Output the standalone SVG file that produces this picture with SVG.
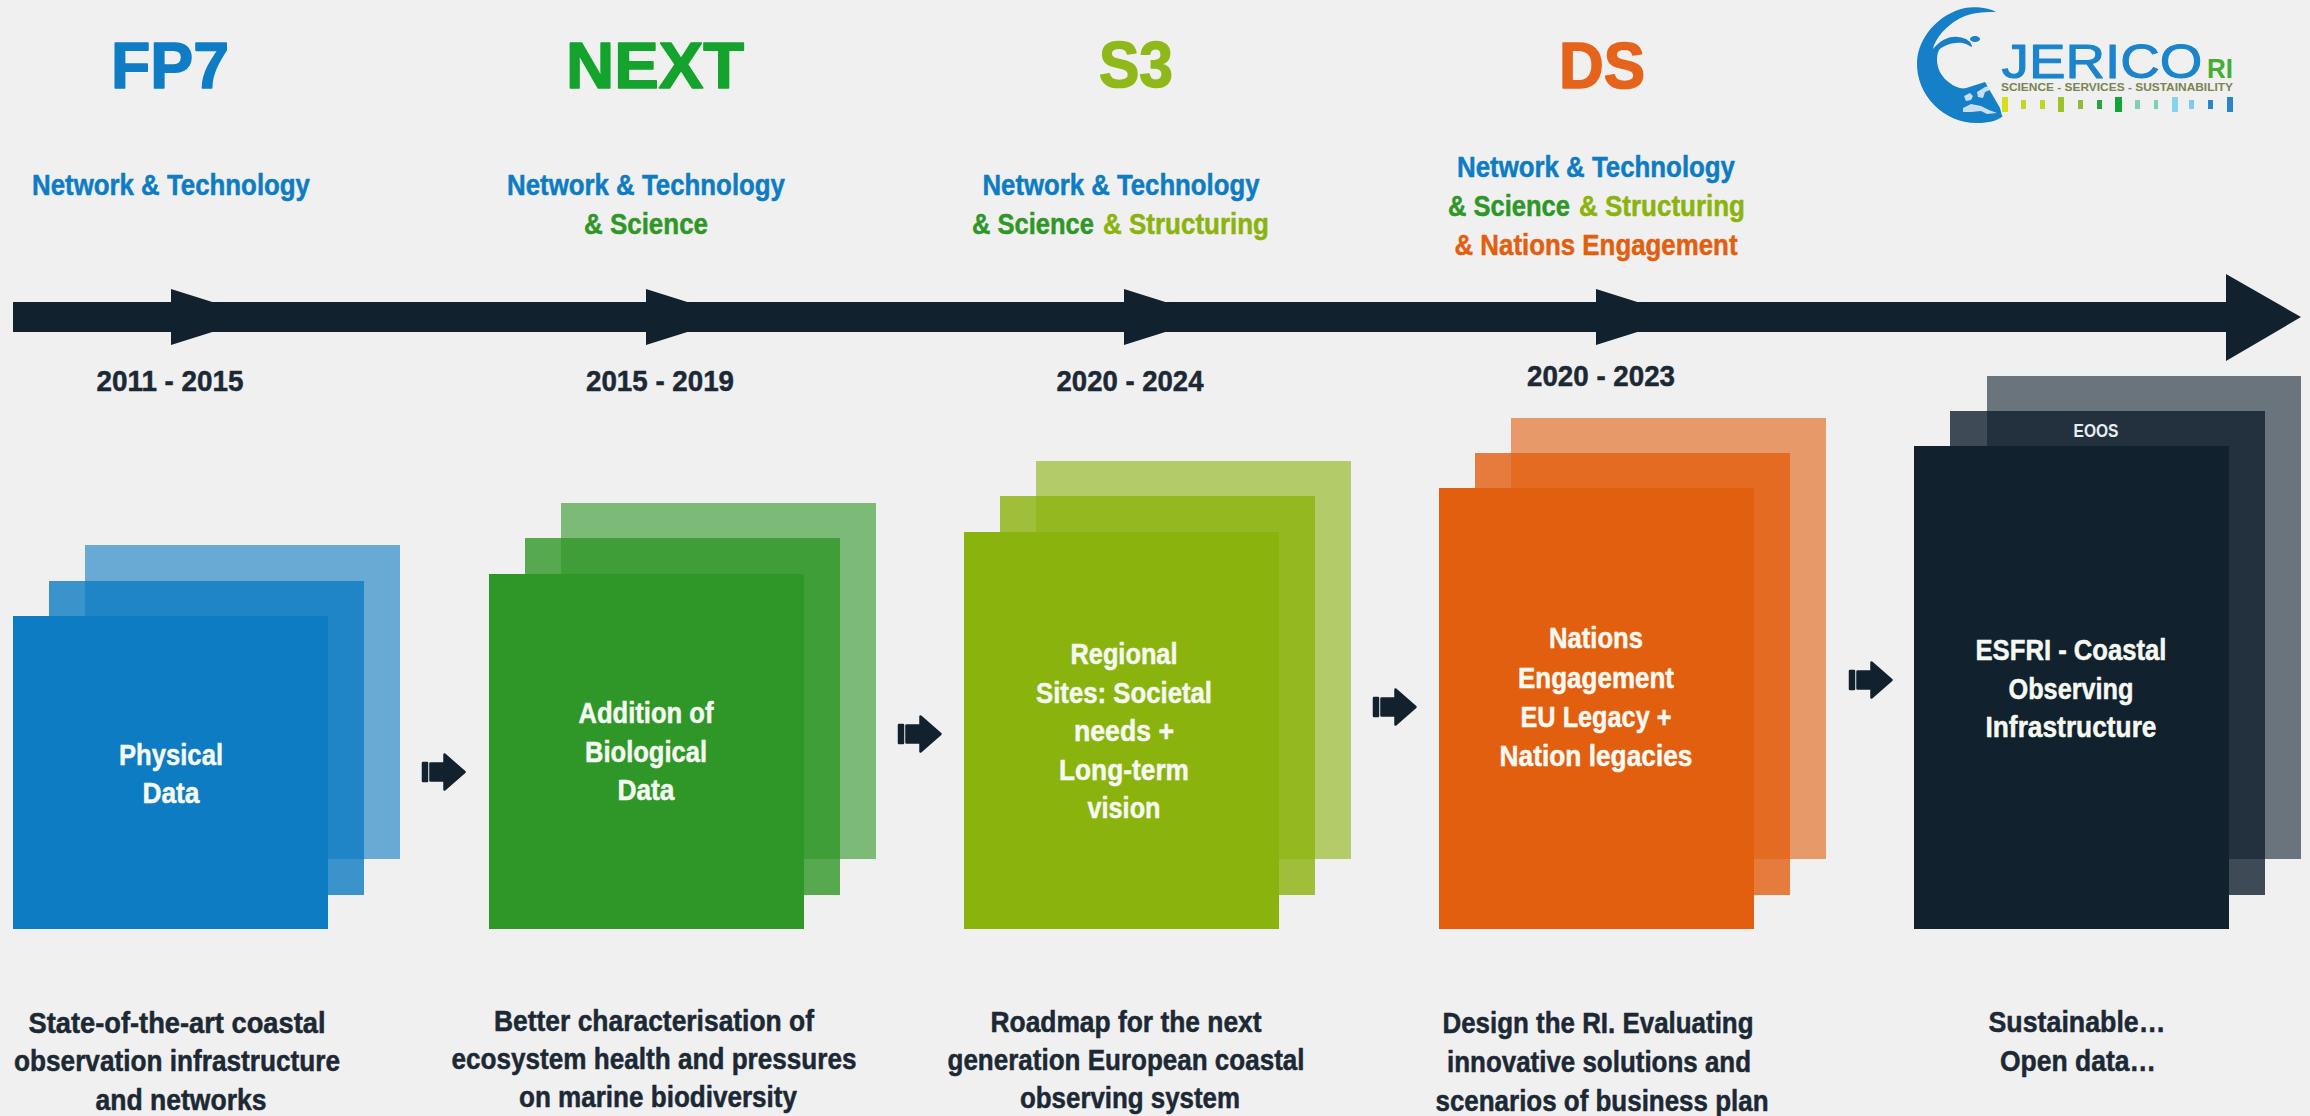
<svg xmlns="http://www.w3.org/2000/svg" width="2310" height="1116" viewBox="0 0 2310 1116">
<style>
text{font-family:"Liberation Sans",Arial,sans-serif;font-weight:700;text-anchor:middle;stroke-width:.5px;stroke-linejoin:round}
.t{font-size:64px;stroke-width:1.6px}.s{font-size:29px}
.k{fill:#1c2935;stroke:#1c2935;font-size:29px}.c{font-size:29px;fill:#f6f9f2;stroke:#f6f9f2}
.b{fill:#0d7cc2;stroke:#0d7cc2}.g{fill:#2f9727;stroke:#2f9727}.l{fill:#8bb30e;stroke:#8bb30e}.o{fill:#e25f10;stroke:#e25f10}.n{fill:#11212e}
.r3{opacity:.6}.r2{opacity:.8}
</style>
<defs>
<path id="sa" d="M0 -9h4v18h-4zM7.500 -8.500h14v-9l20 17.500l-20 17.500v-9h-14z" stroke="#11212e" stroke-width="2.500" stroke-linejoin="round"/>
</defs>
<rect width="2310" height="1116" fill="#f0f0f0"/>
<g id="connectors" class="n">
<path d="M13 302H2226V274L2301 317L2226 361V332H13Z"/>
<path d="M171 289L260 317L171 345Z"/>
<path d="M646 289L735 317L646 345Z"/>
<path d="M1124 289L1213 317L1124 345Z"/>
<path d="M1596 289L1685 317L1596 345Z"/>
<use href="#sa" x="423" y="772"/>
<use href="#sa" x="899" y="734"/>
<use href="#sa" x="1374" y="707"/>
<use href="#sa" x="1850" y="680"/>
</g>
<g id="fp7">
<text class="t" fill="#0f7dc6" stroke="#0f7dc6" x="170" y="88" textLength="118" lengthAdjust="spacingAndGlyphs">FP7</text>
<text class="s b" x="171" y="195" textLength="278" lengthAdjust="spacingAndGlyphs">Network &amp; Technology</text>
<text class="k" x="170" y="391" textLength="147" lengthAdjust="spacingAndGlyphs">2011 - 2015</text>
<rect class="b r3" style="stroke:none" x="85" y="545" width="315" height="314"/><rect class="b r2" style="stroke:none" x="49" y="581" width="315" height="314"/><rect class="b" style="stroke:none" x="13" y="616" width="315" height="313"/>
<text class="c" x="171" y="765" textLength="104" lengthAdjust="spacingAndGlyphs">Physical</text><text class="c" x="171" y="803" textLength="57" lengthAdjust="spacingAndGlyphs">Data</text>
<text class="k" x="177" y="1033" textLength="297" lengthAdjust="spacingAndGlyphs">State-of-the-art coastal</text><text class="k" x="177" y="1071" textLength="326" lengthAdjust="spacingAndGlyphs">observation infrastructure</text><text class="k" x="181" y="1110" textLength="171" lengthAdjust="spacingAndGlyphs">and networks</text>
</g>
<g id="next">
<text class="t" fill="#14a32d" stroke="#14a32d" x="655" y="88" textLength="178" lengthAdjust="spacingAndGlyphs">NEXT</text>
<text class="s b" x="646" y="195" textLength="278" lengthAdjust="spacingAndGlyphs">Network &amp; Technology</text><text class="s g" x="646" y="234" textLength="124" lengthAdjust="spacingAndGlyphs">&amp; Science</text>
<text class="k" x="660" y="391" textLength="148" lengthAdjust="spacingAndGlyphs">2015 - 2019</text>
<rect class="g r3" style="stroke:none" x="561" y="503" width="315" height="356"/><rect class="g r2" style="stroke:none" x="525" y="538" width="315" height="357"/><rect class="g" style="stroke:none" x="489" y="574" width="315" height="355"/>
<text class="c" x="646" y="723" textLength="135" lengthAdjust="spacingAndGlyphs">Addition of</text><text class="c" x="646" y="762" textLength="122" lengthAdjust="spacingAndGlyphs">Biological</text><text class="c" x="646" y="800" textLength="57" lengthAdjust="spacingAndGlyphs">Data</text>
<text class="k" x="654" y="1031" textLength="320" lengthAdjust="spacingAndGlyphs">Better characterisation of</text><text class="k" x="654" y="1069" textLength="405" lengthAdjust="spacingAndGlyphs">ecosystem health and pressures</text><text class="k" x="658" y="1107" textLength="278" lengthAdjust="spacingAndGlyphs">on marine biodiversity</text>
</g>
<g id="s3">
<text class="t" fill="#8fb91a" stroke="#8fb91a" x="1136" y="87" textLength="74" lengthAdjust="spacingAndGlyphs">S3</text>
<text class="s b" x="1121" y="195" textLength="277" lengthAdjust="spacingAndGlyphs">Network &amp; Technology</text><text class="s g" x="1033" y="234" textLength="122" lengthAdjust="spacingAndGlyphs">&amp; Science</text><text class="s l" x="1186" y="234" textLength="166" lengthAdjust="spacingAndGlyphs">&amp; Structuring</text>
<text class="k" x="1130" y="391" textLength="147" lengthAdjust="spacingAndGlyphs">2020 - 2024</text>
<rect class="l r3" style="stroke:none" x="1036" y="461" width="315" height="398"/><rect class="l r2" style="stroke:none" x="1000" y="496" width="315" height="399"/><rect class="l" style="stroke:none" x="964" y="532" width="315" height="397"/>
<text class="c" x="1124" y="664" textLength="107" lengthAdjust="spacingAndGlyphs">Regional</text><text class="c" x="1124" y="703" textLength="176" lengthAdjust="spacingAndGlyphs">Sites: Societal</text><text class="c" x="1124" y="741" textLength="100" lengthAdjust="spacingAndGlyphs">needs +</text><text class="c" x="1124" y="780" textLength="130" lengthAdjust="spacingAndGlyphs">Long-term</text><text class="c" x="1124" y="818" textLength="73" lengthAdjust="spacingAndGlyphs">vision</text>
<text class="k" x="1126" y="1032" textLength="271" lengthAdjust="spacingAndGlyphs">Roadmap for the next</text><text class="k" x="1126" y="1070" textLength="357" lengthAdjust="spacingAndGlyphs">generation European coastal</text><text class="k" x="1130" y="1108" textLength="220" lengthAdjust="spacingAndGlyphs">observing system</text>
</g>
<g id="ds">
<text class="t" fill="#e5631a" stroke="#e5631a" x="1602" y="88" textLength="86" lengthAdjust="spacingAndGlyphs">DS</text>
<text class="s b" x="1596" y="177" textLength="278" lengthAdjust="spacingAndGlyphs">Network &amp; Technology</text><text class="s g" x="1509" y="216" textLength="122" lengthAdjust="spacingAndGlyphs">&amp; Science</text><text class="s l" x="1662" y="216" textLength="166" lengthAdjust="spacingAndGlyphs">&amp; Structuring</text><text class="s o" x="1596" y="255" textLength="283" lengthAdjust="spacingAndGlyphs">&amp; Nations Engagement</text>
<text class="k" x="1601" y="386" textLength="148" lengthAdjust="spacingAndGlyphs">2020 - 2023</text>
<rect class="o r3" style="stroke:none" x="1511" y="418" width="315" height="441"/><rect class="o r2" style="stroke:none" x="1475" y="453" width="315" height="442"/><rect class="o" style="stroke:none" x="1439" y="488" width="315" height="441"/>
<text class="c" x="1596" y="648" textLength="94" lengthAdjust="spacingAndGlyphs">Nations</text><text class="c" x="1596" y="688" textLength="156" lengthAdjust="spacingAndGlyphs">Engagement</text><text class="c" x="1596" y="727" textLength="151" lengthAdjust="spacingAndGlyphs">EU Legacy +</text><text class="c" x="1596" y="766" textLength="193" lengthAdjust="spacingAndGlyphs">Nation legacies</text>
<text class="k" x="1598" y="1033" textLength="311" lengthAdjust="spacingAndGlyphs">Design the RI. Evaluating</text><text class="k" x="1599" y="1072" textLength="304" lengthAdjust="spacingAndGlyphs">innovative solutions and</text><text class="k" x="1602" y="1111" textLength="333" lengthAdjust="spacingAndGlyphs">scenarios of business plan</text>
</g>
<g id="ri">
<rect class="n r3" x="1987" y="376" width="314" height="483"/><rect class="n r2" x="1950" y="411" width="315" height="484"/><rect class="n" x="1914" y="446" width="315" height="483"/>
<text x="2096" y="437" font-size="19" fill="#e8edf0" textLength="45" lengthAdjust="spacingAndGlyphs">EOOS</text>
<text class="c" x="2071" y="660" textLength="191" lengthAdjust="spacingAndGlyphs">ESFRI - Coastal</text><text class="c" x="2071" y="699" textLength="125" lengthAdjust="spacingAndGlyphs">Observing</text><text class="c" x="2071" y="737" textLength="171" lengthAdjust="spacingAndGlyphs">Infrastructure</text>
<text class="k" x="2077" y="1032" textLength="177" lengthAdjust="spacingAndGlyphs">Sustainable…</text><text class="k" x="2078" y="1071" textLength="156" lengthAdjust="spacingAndGlyphs">Open data…</text>
</g>
<g id="logo">
<path fill="#1580c8" d="M1996 12C1990 8 1975 6 1965 8C1938 14 1918 38 1917 62C1916 96 1945 124 1978 123C1988 123 1997 121 2003 116L1990 112L1972 100L1962 90C1972 88 1985 83 1996 82C1985 83 1975 87 1968 88C1958 90 1950 84 1944 78C1937 70 1935 58 1939 50C1945 44 1958 41 1966 44C1969 45 1971 47 1972 47C1972 43 1968 38 1958 37C1948 36 1940 41 1933 49C1936 36 1950 22 1965 16C1975 12 1988 12 1996 12Z"/>
<ellipse cx="1975" cy="39" rx="5" ry="3" fill="#1580c8"/>
<path fill="#1580c8" d="M1960 90L1985 82L2000 108L2002 116L1975 118L1958 105Z"/>
<path fill="#e6eff6" opacity=".85" d="M1964 96l6 -3l3 3l-2 4l-5 1zM1977 92l8 -5l9 -2l-4 5l-5 2l-2 6l-5 -1zM1963 108l8 -4l10 2l8 4l8 3l-10 1l-6 -3l-10 1l-8 0z"/>
<text x="2102" y="78" font-size="49" fill="#1a84cc" stroke="#1a84cc" textLength="201" lengthAdjust="spacingAndGlyphs" style="font-weight:400;stroke-width:1px">JERICO</text>
<text x="2220" y="78" font-size="28" fill="#45ad32" textLength="26" lengthAdjust="spacingAndGlyphs">RI</text>
<text x="2117" y="91" font-size="10" fill="#7c8450" textLength="232" lengthAdjust="spacingAndGlyphs">SCIENCE - SERVICES - SUSTAINABILITY</text>
<rect x="2002" y="97" width="6" height="15" fill="#d5e018"/><rect x="2021" y="100" width="5" height="9" fill="#c3d523"/><rect x="2040" y="100" width="5" height="9" fill="#c3d523"/><rect x="2058" y="97" width="6" height="15" fill="#9cc226"/><rect x="2078" y="100" width="5" height="9" fill="#8fbb3d"/><rect x="2097" y="100" width="5" height="9" fill="#27a33f"/><rect x="2115" y="97" width="7" height="15" fill="#12a53a"/><rect x="2135" y="100" width="5" height="9" fill="#7fd0b0"/><rect x="2154" y="100" width="4" height="9" fill="#7fd0b0"/><rect x="2172" y="97" width="6" height="15" fill="#86d3f0"/><rect x="2189" y="100" width="5" height="9" fill="#7ccbee"/><rect x="2208" y="100" width="5" height="9" fill="#2a86c8"/><rect x="2227" y="97" width="6" height="15" fill="#2a86c8"/>
</g>
</svg>
